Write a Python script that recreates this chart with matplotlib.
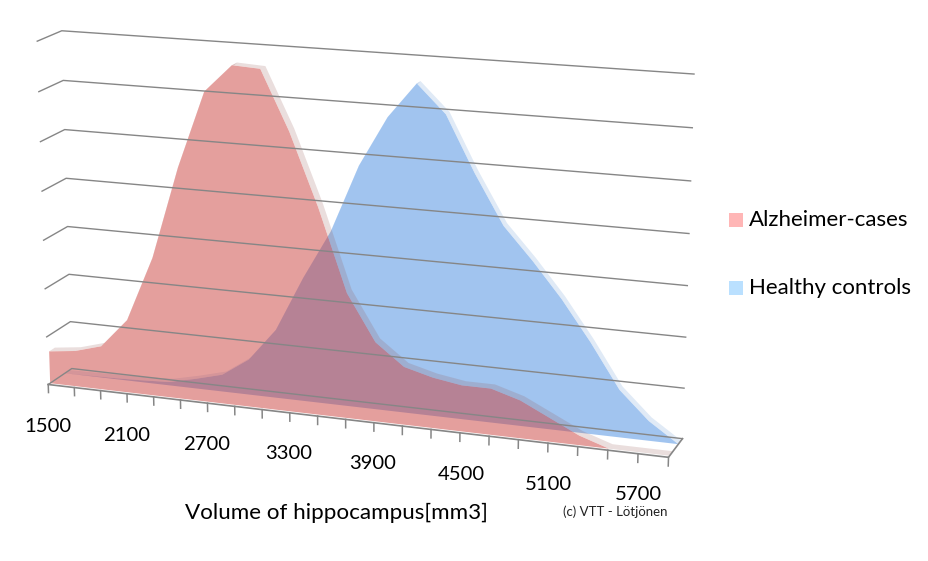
import numpy as np
import matplotlib
matplotlib.use('Agg')
import matplotlib.pyplot as plt
from matplotlib.path import Path
from matplotlib.patches import PathPatch

plt.rcParams['font.family'] = ['Lato', 'DejaVu Sans']

# Hippocampus volume bins, heights are in gridline units
volumes = np.arange(1500, 6000, 200)
alzheimer = [0.67, 0.74, 0.90, 1.50, 2.83, 4.69, 6.23, 6.78, 6.75, 5.58, 4.15, 2.51,
             1.59, 1.16, 1.01, 0.92, 0.92, 0.75, 0.47, 0.19, 0.0, 0.0, 0.0]
healthy = [0.0, 0.01, 0.02, 0.04, 0.07, 0.20, 0.35, 0.73, 1.40, 2.51, 3.50, 4.85,
           5.84, 6.53, 5.98, 4.89, 3.92, 3.29, 2.60, 1.81, 0.94, 0.39, 0.0]
labels = ['1500', '2100', '2700', '3300', '3900', '4500', '5100', '5700']
label_pos = [(48, 426), (127, 435), (207, 444), (289, 453),
             (373, 463), (461, 474), (548, 484), (638, 494)]
levels = range(8)

GREY = '#868686'

# perspective camera, fitted to the corners of the chart box
# (x 0..1, depth 0..1, height 0..7) -> pixel
corners = [((0, 0, 0), (48, 384)), ((1, 0, 0), (669, 457)),
           ((0, 1, 0), (72, 369)), ((1, 1, 0), (682, 439)),
           ((0, 0, 7), (37, 42)), ((0, 1, 7), (62, 30)),
           ((1, 1, 7), (694, 74))]
rows = []
for (x, d, h), (u, v) in corners:
    rows.append([x, d, h, 1, 0, 0, 0, 0, -u*x, -u*d, -u*h, -u])
    rows.append([0, 0, 0, 0, x, d, h, 1, -v*x, -v*d, -v*h, -v])
cam = np.linalg.svd(np.array(rows, float))[2][-1].reshape(3, 4)


def project(vol, depth, height):
    x = (np.asarray(vol, float) - volumes[0]) / (volumes[-1] - volumes[0])
    pts = np.broadcast_arrays(x, depth, height, 1.0)
    p = cam @ np.array([np.ravel(a) for a in pts], float)
    return p[0] / p[2], p[1] / p[2]


def draw_series(ax, vals, d_front, d_back, rgb, alpha, edge_rgb, edge_alpha):
    vals = np.asarray(vals)
    fx, fy = project(volumes, d_front, vals)
    bx, by = project(volumes, d_back, vals)
    x0, y0 = project(volumes, d_front, 0)
    face_x = np.r_[fx, x0[::-1]]
    face_y = np.r_[fy, y0[::-1]]

    # page rectangle with the face cut out, so the top surface
    # only shows outside of the face
    area = np.sum(face_x * np.roll(face_y, -1) - np.roll(face_x, -1) * face_y)
    hole = np.c_[face_x, face_y]
    page = np.array([(0, 0), (929, 0), (929, 561), (0, 561)], float)
    if area > 0:
        hole = hole[::-1]
    verts = np.r_[page, page[:1], hole, hole[:1]]
    codes = [Path.MOVETO] + [Path.LINETO] * 3 + [Path.CLOSEPOLY]
    codes += [Path.MOVETO] + [Path.LINETO] * (len(hole) - 1) + [Path.CLOSEPOLY]
    clip = PathPatch(Path(verts, codes), transform=ax.transData)

    # top surface as one shape: back outline plus front outline reversed
    for i in range(len(vals) - 1):
        quad = ax.fill([fx[i], fx[i+1], bx[i+1], bx[i]], [fy[i], fy[i+1], by[i+1], by[i]],
                       color=edge_rgb, alpha=edge_alpha, lw=0)[0]
        quad.set_clip_path(clip)

    ax.fill(face_x, face_y, color=rgb, alpha=alpha, lw=0)


fig = plt.figure(figsize=(9.29, 5.61), dpi=100)
ax = fig.add_axes([0, 0, 1, 1])
ax.set_xlim(0, 929)
ax.set_ylim(561, 0)
ax.axis('off')

# walls
for lv in levels:
    px, py = project([volumes[0], volumes[0], volumes[-1]], [0, 1, 1], lv)
    ax.plot(px, py, color=GREY, lw=1.0)

draw_series(ax, healthy, 0.70, 0.90, (69/255, 139/255, 225/255), 0.5,
            (100/255, 150/255, 210/255), 0.2)
draw_series(ax, alzheimer, 0.08, 0.32, (203/255, 65/255, 61/255), 0.5,
            (150/255, 90/255, 85/255), 0.2)

# floor edges and ticks
px, py = project([volumes[0], volumes[-1], volumes[-1]], [0, 0, 1], 0)
ax.plot(px, py, color=GREY, lw=1.2)
for v in volumes:
    px, py = project([v, v], 0, [0, -0.17])
    ax.plot(px, py, color=GREY, lw=1.1)

for lab, (x, y) in zip(labels, label_pos):
    ax.text(x, y, lab, fontsize=14.6, ha='center', va='center', color='black')

ax.text(336, 513, 'Volume of hippocampus[mm3]', fontsize=16.1, ha='center', va='center', color='black')
ax.text(615, 512, '(c) VTT - Lötjönen', fontsize=9.5, ha='center', va='center', color='#222222')

# legend
ax.fill([729, 743, 743, 729], [213, 213, 227, 227], color='#ffb6b6', lw=0)
ax.fill([729, 743, 743, 729], [281, 281, 295, 295], color='#bae0ff', lw=0)
ax.text(749, 220, 'Alzheimer-cases', fontsize=16, ha='left', va='center', color='black')
ax.text(749, 288, 'Healthy controls', fontsize=16, ha='left', va='center', color='black')

fig.savefig('out.png', dpi=100)
